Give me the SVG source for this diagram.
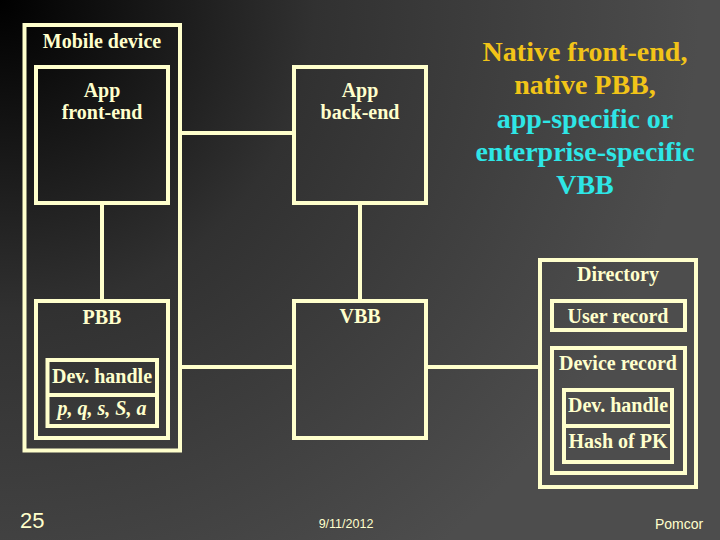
<svg xmlns="http://www.w3.org/2000/svg" width="720" height="540" viewBox="0 0 720 540">
<defs>
<radialGradient id="bg" cx="0" cy="0" r="700" gradientUnits="userSpaceOnUse">
<stop offset="0" stop-color="#000000"/>
<stop offset="0.45" stop-color="#313131"/>
<stop offset="1" stop-color="#4d4d4d"/>
</radialGradient>
<style>
.box{fill:none;stroke:#FFFFCC;stroke-width:4}
.ln{fill:none;stroke:#FFFFCC;stroke-width:4}
.t{font-family:"Liberation Serif","Times New Roman",serif;font-weight:bold;font-size:20px;fill:#FFFFCC;text-anchor:middle}
.it{font-style:italic}
.big{font-family:"Liberation Serif","Times New Roman",serif;font-weight:bold;font-size:28px;text-anchor:middle}
.y{fill:#F2C418}
.c{fill:#2EE6E6}
.f{font-family:"Liberation Sans",Arial,sans-serif;fill:#FFFFCC}
</style>
</defs>
<rect x="0" y="0" width="720" height="540" fill="url(#bg)"/>

<g id="connectors">
<line class="ln" x1="180" y1="133" x2="294" y2="133"/>
<line class="ln" x1="102" y1="203" x2="102" y2="301"/>
<line class="ln" x1="360" y1="203" x2="360" y2="301"/>
<line class="ln" x1="180" y1="367" x2="294" y2="367"/>
<line class="ln" x1="426" y1="367" x2="540" y2="367"/>
</g>

<g id="mobile-device">
<rect class="box" x="24.5" y="25" width="155.5" height="425.5"/>
<text class="t" x="102" y="48">Mobile device</text>
</g>

<g id="app-front-end">
<rect class="box" x="36" y="67" width="132" height="136"/>
<text class="t" x="102" y="96.5">App</text>
<text class="t" x="102" y="118.5">front-end</text>
</g>

<g id="app-back-end">
<rect class="box" x="294" y="67" width="132" height="136"/>
<text class="t" x="360" y="97">App</text>
<text class="t" x="360" y="119">back-end</text>
</g>

<g id="pbb">
<rect class="box" x="36" y="301" width="132" height="137"/>
<text class="t" x="102" y="323.5">PBB</text>
</g>

<g id="pbb-dev-handle">
<rect class="box" x="47.5" y="360" width="109.5" height="66"/>
<line class="ln" x1="47.5" y1="395" x2="157" y2="395"/>
<text class="t" x="102" y="383">Dev. handle</text>
<text class="t it" x="102" y="414.5">p, q, s, S, a</text>
</g>

<g id="vbb">
<rect class="box" x="294" y="301" width="132" height="137"/>
<text class="t" x="360" y="322.5">VBB</text>
</g>

<g id="directory">
<rect class="box" x="540" y="260" width="156" height="227"/>
<text class="t" x="618" y="281">Directory</text>
</g>

<g id="user-record">
<rect class="box" x="552" y="301" width="133" height="29"/>
<text class="t" x="618" y="323">User record</text>
</g>

<g id="device-record">
<rect class="box" x="552" y="348" width="133" height="125"/>
<text class="t" x="618" y="370">Device record</text>
</g>

<g id="dir-dev-handle">
<rect class="box" x="564" y="390" width="108" height="72"/>
<line class="ln" x1="564" y1="426" x2="672" y2="426"/>
<text class="t" x="618" y="412">Dev. handle</text>
<text class="t" x="618" y="448">Hash of PK</text>
</g>

<g id="note">
<text class="big y" x="585" y="61">Native front-end,</text>
<text class="big y" x="585" y="94">native PBB,</text>
<text class="big c" x="585" y="127.5">app-specific or</text>
<text class="big c" x="585" y="161">enterprise-specific</text>
<text class="big c" x="585" y="194">VBB</text>
</g>

<g id="footer">
<text class="f" x="20" y="528" font-size="22">25</text>
<text class="f" x="346" y="528" font-size="12.5" text-anchor="middle">9/11/2012</text>
<text class="f" x="655" y="529" font-size="14">Pomcor</text>
</g>
</svg>
